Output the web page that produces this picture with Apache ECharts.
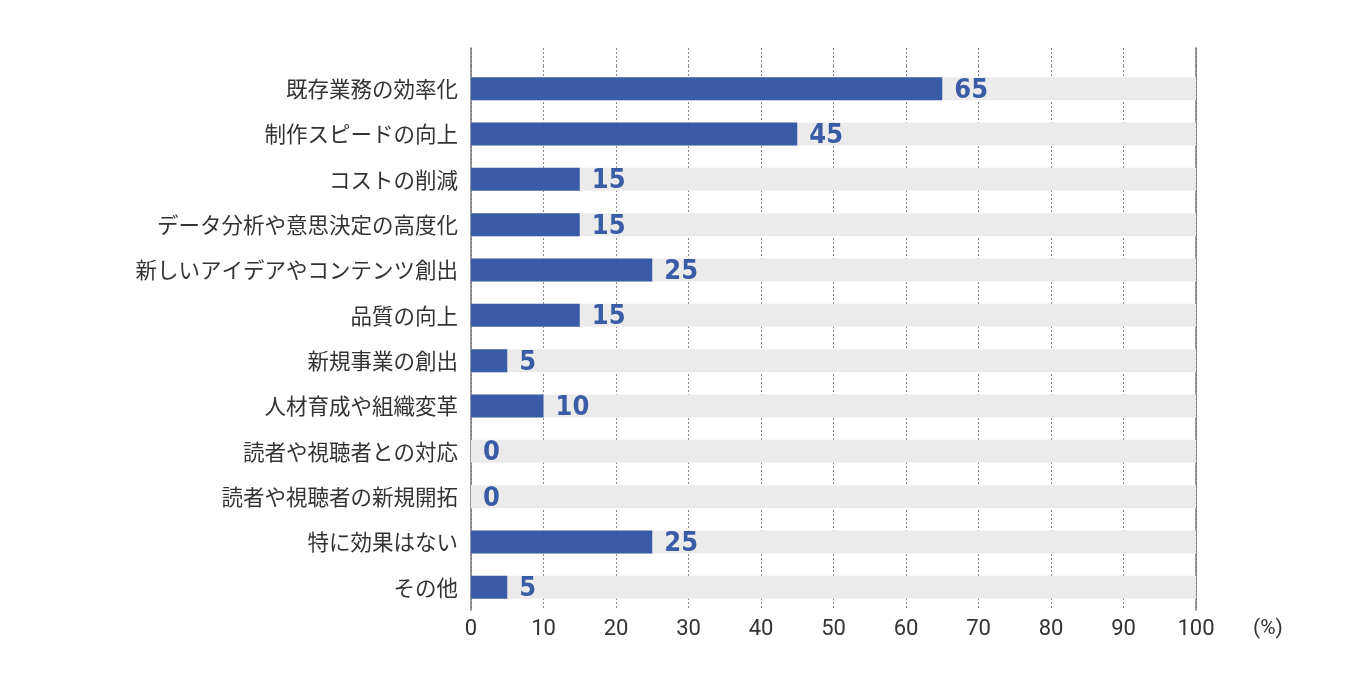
<!DOCTYPE html>
<html lang="ja">
  <head>
    <meta charset="UTF-8" />
    <title>効果</title>
    <script src="https://cdn.jsdelivr.net/npm/echarts@6/dist/echarts.min.js"></script>
    <style>
      html, body { margin: 0; padding: 0; background: #fff; }
      #chart { width: 1346px; height: 685px; }
    </style>
  </head>
  <body>
    <div id="chart"></div>
    <script>
      // カテゴリ（上から順）
      var categories = [
        "既存業務の効率化",
        "制作スピードの向上",
        "コストの削減",
        "データ分析や意思決定の高度化",
        "新しいアイデアやコンテンツ創出",
        "品質の向上",
        "新規事業の創出",
        "人材育成や組織変革",
        "読者や視聴者との対応",
        "読者や視聴者の新規開拓",
        "特に効果はない",
        "その他"
      ];
      // 割合 (%)
      var values = [65, 45, 15, 15, 25, 15, 5, 10, 0, 0, 25, 5];
      var xMin = 0, xMax = 100, xStep = 10;
      var unitLabel = "(%)";

      var blue = "#3a5ba5";
      var gridLine = { show: true, lineStyle: { color: "#888", type: [2, 2], width: 1 } };

      var myChart = echarts.init(document.getElementById("chart"));
      var option = {
        animation: false,
        // 単位表示
        title: {
          text: unitLabel,
          left: 1248,
          top: 613,
          textStyle: { color: "#333", fontSize: 21, fontWeight: "normal", fontFamily: "Roboto" }
        },
        grid: [
          // メイン
          { left: 471, right: 150, top: 66, bottom: 75 },
          // 上の余白部分（縦線の延長）
          { left: 471, right: 150, top: 48, height: 18 }
        ],
        xAxis: [
          {
            gridIndex: 0,
            type: "value",
            min: xMin, max: xMax, interval: xStep,
            axisLine: { show: false },
            axisTick: { show: false },
            splitLine: gridLine,
            axisLabel: { color: "#333", fontSize: 22, fontFamily: "Roboto", margin: 8 }
          },
          {
            gridIndex: 1,
            type: "value",
            min: xMin, max: xMax, interval: xStep,
            axisLine: { show: false },
            axisTick: { show: false },
            axisLabel: { show: false },
            splitLine: gridLine
          }
        ],
        yAxis: [
          {
            gridIndex: 0,
            type: "category",
            inverse: true,
            data: categories,
            axisLine: { show: true, lineStyle: { color: "#777", width: 1.5 } },
            axisTick: { show: false },
            axisLabel: { color: "#333", fontSize: 21.5, fontFamily: "Noto Sans CJK JP", margin: 13 }
          },
          {
            gridIndex: 0,
            type: "category",
            position: "right",
            data: categories,
            axisLine: { show: true, onZero: false, lineStyle: { color: "#777", width: 1.5 } },
            axisTick: { show: false },
            axisLabel: { show: false }
          },
          {
            gridIndex: 1,
            type: "value",
            axisLine: { show: true, lineStyle: { color: "#777", width: 1.5 } },
            axisTick: { show: false },
            axisLabel: { show: false },
            splitLine: { show: false }
          },
          {
            gridIndex: 1,
            type: "value",
            position: "right",
            axisLine: { show: true, onZero: false, lineStyle: { color: "#777", width: 1.5 } },
            axisTick: { show: false },
            axisLabel: { show: false },
            splitLine: { show: false }
          }
        ],
        series: [
          {
            type: "bar",
            xAxisIndex: 0,
            yAxisIndex: 0,
            data: values,
            barWidth: 23,
            itemStyle: { color: blue },
            showBackground: true,
            backgroundStyle: { color: "#ebebeb" },
            label: {
              show: true,
              position: "right",
              distance: 12,
              offset: [0, 2],
              color: blue,
              fontSize: 27,
              fontWeight: "bold",
              fontFamily: "DejaVu Sans Condensed"
            }
          }
        ]
      };
      myChart.setOption(option);
    </script>
  </body>
</html>
